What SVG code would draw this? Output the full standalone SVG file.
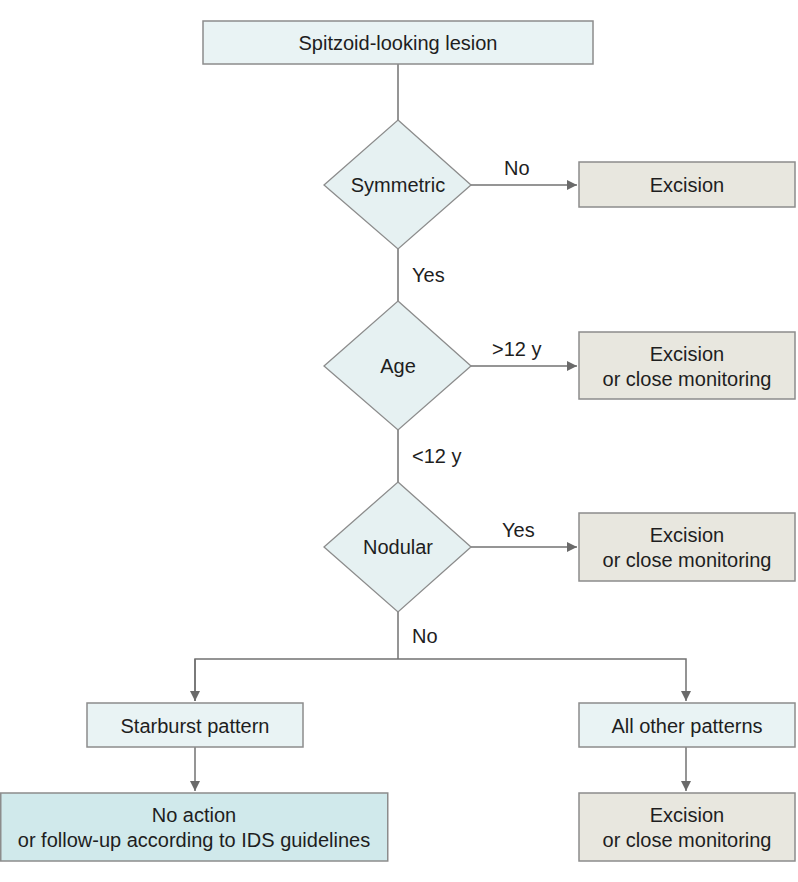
<svg xmlns="http://www.w3.org/2000/svg" width="798" height="882" viewBox="0 0 798 882">
<defs>
<style>
text{font-family:"Liberation Sans",Arial,sans-serif;font-size:20px;fill:#1e1e1e;text-anchor:middle}
.lbl{text-anchor:start}
.q{fill:#e9f3f4;stroke:#8c8c8c;stroke-width:1.5}
.d{fill:#e6f1f2;stroke:#8c8c8c;stroke-width:1.3}
.b{fill:#e8e7df;stroke:#8c8c8c;stroke-width:1.5}
.g{fill:#d0e9eb;stroke:#8c8c8c;stroke-width:1.5}
.c{fill:none;stroke:#727272;stroke-width:1.5}
</style>
<marker id="ah" viewBox="0 0 10 10" refX="10" refY="5" markerWidth="10" markerHeight="10" markerUnits="userSpaceOnUse" orient="auto">
<path d="M0,0 L10,5 L0,10 Z" fill="#6a6a6a"/>
</marker>
</defs>
<rect width="798" height="882" fill="#ffffff"/>
<g id="connectors">
<path class="c" d="M398,64 V120"/>
<path class="c" d="M471,185 H577" marker-end="url(#ah)"/>
<path class="c" d="M398,249 V301"/>
<path class="c" d="M471,366 H577" marker-end="url(#ah)"/>
<path class="c" d="M398,430 V482"/>
<path class="c" d="M471,547 H577" marker-end="url(#ah)"/>
<path class="c" d="M398,612 V659"/>
<path class="c" d="M195,701 V659 H686 V701" marker-end="url(#ah)"/>
<path class="c" d="M195,659 V701" marker-end="url(#ah)"/>
<path class="c" d="M195,747 V791" marker-end="url(#ah)"/>
<path class="c" d="M686,747 V791" marker-end="url(#ah)"/>
<text class="lbl" x="504" y="175">No</text>
<text class="lbl" x="412" y="282">Yes</text>
<text class="lbl" x="492" y="356">&gt;12 y</text>
<text class="lbl" x="412" y="463">&lt;12 y</text>
<text class="lbl" x="502" y="537">Yes</text>
<text class="lbl" x="412" y="643">No</text>
</g>
<g id="start">
<rect class="q" x="203" y="21" width="390" height="43"/>
<text x="398" y="50">Spitzoid-looking lesion</text>
</g>
<g id="symmetric">
<polygon class="d" points="398,120 471,185 398,249 324,185"/>
<text x="398" y="192">Symmetric</text>
</g>
<g id="excision1">
<rect class="b" x="579" y="162" width="216" height="45"/>
<text x="687" y="192">Excision</text>
</g>
<g id="age">
<polygon class="d" points="398,301 471,366 398,430 324,366"/>
<text x="398" y="373">Age</text>
</g>
<g id="excision2">
<rect class="b" x="579" y="332" width="216" height="67"/>
<text x="687" y="361">Excision</text>
<text x="687" y="386">or close monitoring</text>
</g>
<g id="nodular">
<polygon class="d" points="398,482 471,547 398,612 324,547"/>
<text x="398" y="554">Nodular</text>
</g>
<g id="excision3">
<rect class="b" x="579" y="513" width="216" height="68"/>
<text x="687" y="542">Excision</text>
<text x="687" y="567">or close monitoring</text>
</g>
<g id="starburst">
<rect class="q" x="87" y="703" width="216" height="44"/>
<text x="195" y="733">Starburst pattern</text>
</g>
<g id="other">
<rect class="q" x="579" y="703" width="216" height="44"/>
<text x="687" y="733">All other patterns</text>
</g>
<g id="noaction">
<rect class="g" x="0.75" y="793" width="387" height="68"/>
<text x="194" y="822">No action</text>
<text x="194" y="847">or follow-up according to IDS guidelines</text>
</g>
<g id="excision4">
<rect class="b" x="579" y="793" width="216" height="68"/>
<text x="687" y="822">Excision</text>
<text x="687" y="847">or close monitoring</text>
</g>
</svg>
